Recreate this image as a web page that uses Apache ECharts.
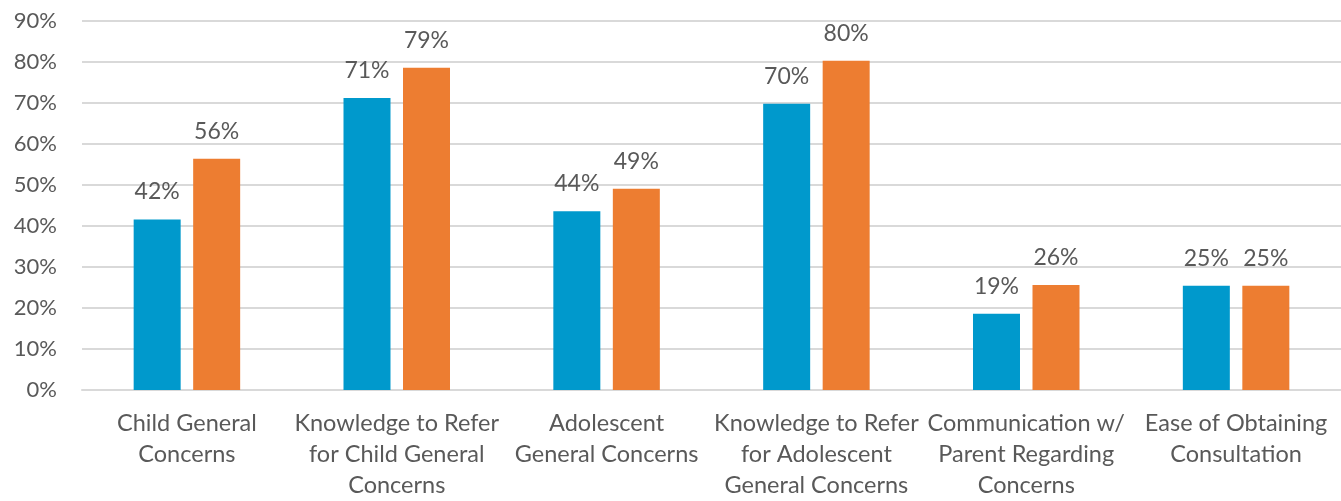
<!DOCTYPE html>
<html>
<head>
<meta charset="utf-8">
<script src="https://cdn.jsdelivr.net/npm/echarts@6/dist/echarts.min.js"></script>
<style>
html,body{margin:0;padding:0;background:#fff;overflow:hidden;}
#chart{width:1341px;height:501px;}
</style>
</head>
<body>
<div id="chart"></div>
<script>
const categories = [
  "Child General\nConcerns",
  "Knowledge to Refer\nfor Child General\nConcerns",
  "Adolescent\nGeneral Concerns",
  "Knowledge to Refer\nfor Adolescent\nGeneral Concerns",
  "Communication w/\nParent Regarding\nConcerns",
  "Ease of Obtaining\nConsultation"
];
const seriesBlue = [41.6, 71.2, 43.6, 69.8, 18.6, 25.4];
const seriesOrange = [56.4, 78.6, 49.1, 80.3, 25.6, 25.4];
const yTicks = [0, 10, 20, 30, 40, 50, 60, 70, 80, 90];

const FONT = 'Lato';
const TXT = '#595959';
const chart = echarts.init(document.getElementById('chart'));
chart.setOption({
  animation: false,
  grid: {left: 82, right: -5, top: 21, bottom: 109, containLabel: false},
  xAxis: {
    type: 'category',
    data: categories,
    axisLine: {lineStyle: {color: '#d9d9d9', width: 2}},
    axisTick: {show: false},
    axisLabel: {color: TXT, fontFamily: FONT, fontSize: 23.5, lineHeight: 31, margin: 18, interval: 0}
  },
  yAxis: {
    type: 'value',
    min: yTicks[0],
    max: yTicks[yTicks.length - 1],
    interval: 10,
    axisLine: {show: false},
    axisTick: {show: false},
    splitLine: {lineStyle: {color: '#d9d9d9', width: 2}},
    axisLabel: {color: TXT, fontFamily: FONT, fontSize: 22, margin: 25, formatter: v => v + '%'}
  },
  series: [
    {
      type: 'bar', data: seriesBlue, barWidth: 47, barGap: '26.6%',
      itemStyle: {color: '#0099CC'},
      label: {show: true, position: 'top', distance: 16, color: TXT, fontFamily: FONT, fontSize: 23,
        formatter: p => Math.round(p.value) + '%'}
    },
    {
      type: 'bar', data: seriesOrange, barWidth: 47,
      itemStyle: {color: '#ED7D31'},
      label: {show: true, position: 'top', distance: 16, color: TXT, fontFamily: FONT, fontSize: 23,
        formatter: p => Math.round(p.value) + '%'}
    }
  ]
});
</script>
</body>
</html>
